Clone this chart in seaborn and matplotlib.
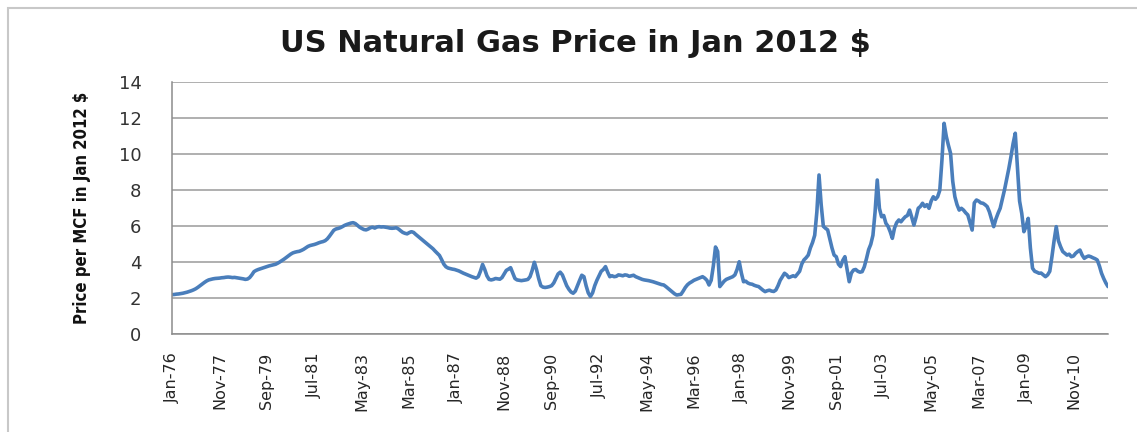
import matplotlib
matplotlib.use("Agg")
import matplotlib.pyplot as plt
import matplotlib.patches as patches
import seaborn as sns
import numpy as np
import pandas as pd

# monthly price, Jan 1976 .. Mar 2012 (per MCF, Jan 2012 $)
prices = [
    2.20, 2.21, 2.23, 2.24, 2.26, 2.28, 2.31, 2.34, 2.38, 2.42, 2.47, 2.53,  # 1976
    2.61, 2.70, 2.79, 2.88, 2.96, 3.02, 3.05, 3.08, 3.10, 3.11, 3.12, 3.14,  # 1977
    3.15, 3.17, 3.18, 3.17, 3.15, 3.16, 3.14, 3.12, 3.10, 3.08, 3.05, 3.07,  # 1978
    3.15, 3.30, 3.48, 3.55, 3.60, 3.64, 3.68, 3.72, 3.76, 3.80, 3.83, 3.86,  # 1979
    3.89, 3.95, 4.02, 4.10, 4.18, 4.27, 4.36, 4.45, 4.52, 4.56, 4.59, 4.61,  # 1980
    4.66, 4.72, 4.80, 4.88, 4.93, 4.96, 4.99, 5.03, 5.08, 5.12, 5.15, 5.20,  # 1981
    5.30, 5.45, 5.62, 5.78, 5.85, 5.88, 5.92, 5.98, 6.05, 6.10, 6.14, 6.18,  # 1982
    6.20, 6.15, 6.05, 5.95, 5.88, 5.82, 5.80, 5.85, 5.92, 5.95, 5.90, 5.96,  # 1983
    5.98, 5.96, 5.97, 5.95, 5.93, 5.90, 5.89, 5.90, 5.92, 5.85, 5.75, 5.66,  # 1984
    5.61, 5.58, 5.65, 5.70, 5.66, 5.55, 5.45, 5.35, 5.25, 5.15, 5.05, 4.95,  # 1985
    4.85, 4.75, 4.62, 4.50, 4.38, 4.15, 3.90, 3.75, 3.68, 3.65, 3.62, 3.60,  # 1986
    3.56, 3.52, 3.46, 3.40, 3.35, 3.30, 3.25, 3.20, 3.16, 3.12, 3.20, 3.50,  # 1987
    3.88, 3.60, 3.25, 3.05, 3.02, 3.05, 3.10, 3.08, 3.06, 3.15, 3.35, 3.55,  # 1988
    3.62, 3.70, 3.40, 3.10, 3.02, 3.00, 2.98, 3.00, 3.02, 3.05, 3.20, 3.55,  # 1989
    4.00, 3.60, 3.10, 2.70, 2.62, 2.60, 2.62, 2.65, 2.70, 2.85, 3.10, 3.35,  # 1990
    3.45, 3.30, 3.00, 2.70, 2.50, 2.35, 2.28, 2.40, 2.70, 3.00, 3.28, 3.20,  # 1991
    2.70, 2.30, 2.10, 2.30, 2.70, 3.00, 3.25, 3.50, 3.60, 3.76, 3.45, 3.20,  # 1992
    3.25, 3.20, 3.22, 3.30, 3.28, 3.25, 3.30, 3.28, 3.22, 3.25, 3.28, 3.20,  # 1993
    3.15, 3.10, 3.05, 3.02, 3.00, 2.98, 2.95, 2.92, 2.88, 2.84, 2.80, 2.76,  # 1994
    2.74, 2.65, 2.55, 2.45, 2.35, 2.25, 2.18, 2.20, 2.22, 2.40, 2.60, 2.75,  # 1995
    2.85, 2.92, 3.00, 3.05, 3.10, 3.15, 3.20, 3.12, 3.00, 2.74, 3.00, 3.80,  # 1996
    4.85, 4.60, 2.65, 2.80, 2.95, 3.05, 3.10, 3.15, 3.20, 3.30, 3.60, 4.03,  # 1997
    3.40, 2.92, 2.95, 2.85, 2.80, 2.78, 2.72, 2.68, 2.65, 2.55, 2.45, 2.37,  # 1998
    2.42, 2.45, 2.40, 2.38, 2.46, 2.70, 3.00, 3.20, 3.39, 3.30, 3.15, 3.20,  # 1999
    3.25, 3.20, 3.35, 3.50, 3.90, 4.13, 4.25, 4.40, 4.80, 5.10, 5.50, 6.80,  # 2000
    8.85, 7.20, 6.00, 5.89, 5.80, 5.30, 4.80, 4.40, 4.31, 3.90, 3.76, 4.10,  # 2001
    4.31, 3.60, 2.92, 3.40, 3.57, 3.60, 3.50, 3.45, 3.48, 3.75, 4.20, 4.70,  # 2002
    5.00, 5.50, 6.80, 8.57, 7.00, 6.53, 6.60, 6.17, 6.00, 5.70, 5.33, 5.90,  # 2003
    6.20, 6.35, 6.25, 6.40, 6.53, 6.60, 6.90, 6.50, 6.07, 6.50, 7.00, 7.10,  # 2004
    7.28, 7.10, 7.20, 7.00, 7.40, 7.64, 7.50, 7.64, 8.00, 9.68, 11.72, 11.00,  # 2005
    10.50, 10.05, 8.50, 7.64, 7.20, 6.90, 7.00, 6.90, 6.75, 6.63, 6.20, 5.79,  # 2006
    7.30, 7.46, 7.40, 7.30, 7.28, 7.20, 7.09, 6.80, 6.40, 5.98, 6.40, 6.72,  # 2007
    7.00, 7.50, 8.02, 8.60, 9.20, 9.87, 10.60, 11.17, 9.31, 7.40, 6.72, 5.70,  # 2008
    6.00, 6.44, 4.80, 3.67, 3.50, 3.45, 3.39, 3.40, 3.30, 3.20, 3.30, 3.50,  # 2009
    4.31, 5.20, 5.98, 5.20, 4.87, 4.60, 4.50, 4.40, 4.45, 4.31, 4.35, 4.50,  # 2010
    4.60, 4.68, 4.40, 4.22, 4.30, 4.35, 4.31, 4.25, 4.20, 4.13, 3.80, 3.39,  # 2011
    3.10, 2.85, 2.65,  # 2012
]

tick_labels = ["Jan-76", "Nov-77", "Sep-79", "Jul-81", "May-83", "Mar-85",
               "Jan-87", "Nov-88", "Sep-90", "Jul-92", "May-94", "Mar-96",
               "Jan-98", "Nov-99", "Sep-01", "Jul-03", "May-05", "Mar-07",
               "Jan-09", "Nov-10"]
tick_step = 22  # months between category labels

df = pd.DataFrame({"month": np.arange(len(prices)), "price": prices})

sns.set_style("white")
plt.rcParams["font.family"] = ["DejaVu Sans"]

fig = plt.figure(figsize=(11.37, 4.32), dpi=100)
ax = fig.add_axes([0.1513, 0.2262, 0.8232, 0.5833])

sns.lineplot(data=df, x="month", y="price", ax=ax,
             color="#4a7ebb", linewidth=2.6)

ax.set_xlim(0, len(prices) - 1)
ax.set_ylim(0, 14)
ax.set_yticks(range(0, 15, 2))
ax.set_xticks(np.arange(len(tick_labels)) * tick_step)
ax.set_xticklabels(tick_labels, rotation=90, fontsize=11.5, color="#262626")
ax.tick_params(axis="y", labelsize=13, labelcolor="#333333",
               length=8, width=1, color="#8c8c8c", pad=14)
ax.tick_params(axis="x", length=4, width=1, color="#8c8c8c", pad=9)
ax.set_xlabel("")
ax.set_ylabel("Price per MCF in Jan 2012 $", fontsize=12, fontweight="bold",
              fontstretch="condensed", color="#111111", labelpad=20)

ax.grid(axis="y", color="#9a9a9a", linewidth=1.1)
ax.set_axisbelow(True)
for side in ["top", "right"]:
    ax.spines[side].set_visible(False)
for side in ["left", "bottom"]:
    ax.spines[side].set_color("#8c8c8c")
    ax.spines[side].set_linewidth(1.1)

fig.text(575 / 1137, 1 - 43 / 432, "US Natural Gas Price in Jan 2012 $",
         ha="center", va="center", fontsize=22, fontweight="bold",
         color="#1a1a1a")

# chart border, as in the spreadsheet export
fig.add_artist(patches.Rectangle((8 / 1137, -0.05), 1.2, 1 - 8 / 432 + 0.05,
                                 transform=fig.transFigure, fill=False,
                                 edgecolor="#c8c8c8", linewidth=1.5))

fig.savefig("out.png", dpi=100)
